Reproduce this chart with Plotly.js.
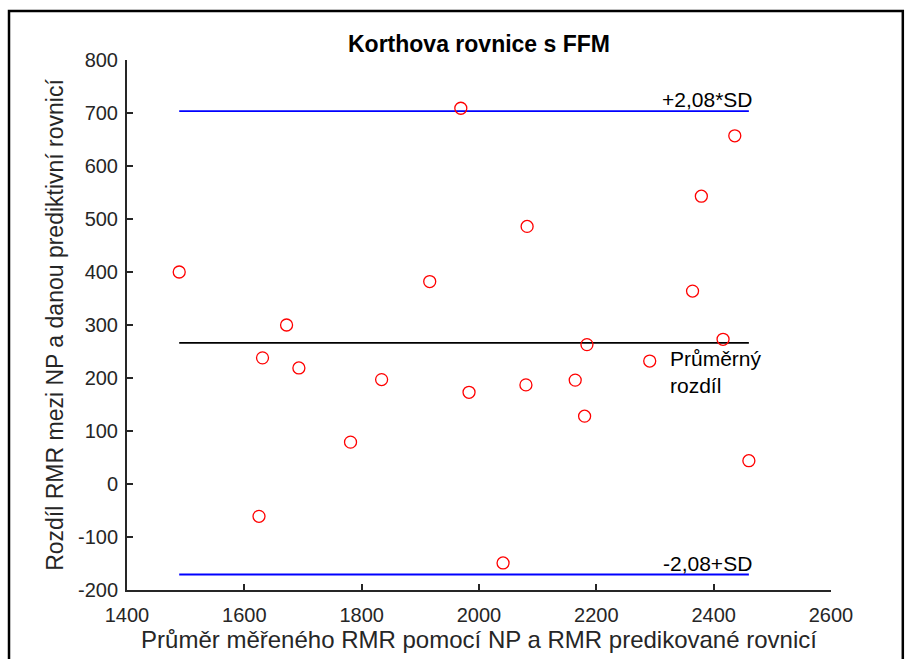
<!DOCTYPE html>
<html>
<head>
<meta charset="utf-8">
<script src="https://cdn.plot.ly/plotly-3.0.1.min.js"></script>
<style>html,body{margin:0;padding:0;background:#fff;}#chart{width:905px;height:659px;}</style>
</head>
<body>
<div id="chart"></div>
<script>
// Mean of measured RMR (NP) and predicted RMR
const meanRMR = [1489, 1672, 1631, 1693, 1625, 1969, 2082, 1916, 1834, 1983, 2080,
                 1781, 2041, 2436, 2379, 2364, 2184, 2416, 2291, 2164, 2180, 2460];
// Difference between measured RMR and prediction
const diffRMR = [400, 300, 238, 219, -61, 709, 486, 382, 197, 173, 187,
                 79, -149, 657, 543, 364, 263, 273, 232, 196, 128, 44];
const sdFactor = 2.08;
const xTicks = [1400, 1600, 1800, 2000, 2200, 2400, 2600];
const yTicks = [-200, -100, 0, 100, 200, 300, 400, 500, 600, 700, 800];
const titleText = "Korthova rovnice s FFM";
const xTitle = "Průměr měřeného RMR pomocí NP a RMR predikované rovnicí";
const yTitle = "Rozdíl RMR mezi NP a danou prediktivní rovnicí";
const upperLabel = "+2,08*SD";
const lowerLabel = "-2,08+SD";
const meanLabel = "Průměrný<br>rozdíl";

const n = diffRMR.length;
const mean = diffRMR.reduce((a, b) => a + b, 0) / n;
const sd = Math.sqrt(diffRMR.reduce((a, b) => a + (b - mean) ** 2, 0) / (n - 1));
const upper = mean + sdFactor * sd;
const lower = mean - sdFactor * sd;
const xMin = Math.min(...meanRMR), xMax = Math.max(...meanRMR);

const font = "Liberation Sans, Arial, sans-serif";
const txt = "#262626";

const traces = [
  {x: [xMin, xMax], y: [upper, upper], mode: "lines", line: {color: "#0000ff", width: 1.8}, hoverinfo: "skip"},
  {x: [xMin, xMax], y: [lower, lower], mode: "lines", line: {color: "#0000ff", width: 1.8}, hoverinfo: "skip"},
  {x: [xMin, xMax], y: [mean, mean], mode: "lines", line: {color: "#000000", width: 1.8}, hoverinfo: "skip"},
  {x: meanRMR, y: diffRMR, mode: "markers", type: "scatter",
   marker: {symbol: "circle-open", size: 12, color: "#ff0000", line: {color: "#ff0000", width: 1.3}}}
];

const layout = {
  width: 905, height: 659,
  margin: {l: 127, r: 74, t: 60, b: 69, pad: 0},
  paper_bgcolor: "#ffffff", plot_bgcolor: "#ffffff",
  showlegend: false,
  font: {family: font, color: txt, size: 20},
  title: {text: "<b>" + titleText + "</b>", font: {family: font, size: 23, color: "#000"},
          x: 0.5, xref: "paper", xanchor: "center", y: 1 - 44 / 659, yref: "container", yanchor: "middle"},
  xaxis: {
    range: [1400, 2600], tickvals: xTicks, ticktext: xTicks.map(String),
    showgrid: false, zeroline: false, showline: true, linecolor: txt, linewidth: 2,
    ticks: "inside", ticklen: 6, tickwidth: 2, tickcolor: txt, mirror: false,
    ticklabelstandoff: 6,
    tickfont: {size: 20, color: txt, family: font},
    title: {text: xTitle, font: {size: 24, color: txt, family: font}, standoff: 6}
  },
  yaxis: {
    range: [-200, 800], tickvals: yTicks, ticktext: yTicks.map(String),
    showgrid: false, zeroline: false, showline: true, linecolor: txt, linewidth: 2,
    ticks: "inside", ticklen: 6, tickwidth: 2, tickcolor: txt, mirror: false,
    ticklabelstandoff: 3,
    tickfont: {size: 20, color: txt, family: font},
    title: {text: yTitle, font: {size: 23, color: txt, family: font}, standoff: 8}
  },
  annotations: [
    {x: xMax, y: upper, xref: "x", yref: "y", text: upperLabel, showarrow: false,
     xanchor: "right", yanchor: "bottom", yshift: -2, xshift: 5, font: {size: 21, color: "#000", family: font}},
    {x: xMax, y: lower, xref: "x", yref: "y", text: lowerLabel, showarrow: false,
     xanchor: "right", yanchor: "bottom", yshift: -2, xshift: 5, font: {size: 21, color: "#000", family: font}},
    {x: 2325, y: mean, xref: "x", yref: "y", text: meanLabel, showarrow: false, align: "left",
     xanchor: "left", yanchor: "top", yshift: -2, xshift: -2, font: {size: 21, color: "#000", family: font}}
  ],
  shapes: [
    {type: "rect", xref: "paper", yref: "paper", x0: -0.1676, x1: 1.102, y0: -0.16, y1: 1.0925,
     line: {color: "#000", width: 2.5}, fillcolor: "rgba(0,0,0,0)", layer: "above"}
  ]
};

Plotly.newPlot("chart", traces, layout, {staticPlot: true, displayModeBar: false});
</script>
</body>
</html>
